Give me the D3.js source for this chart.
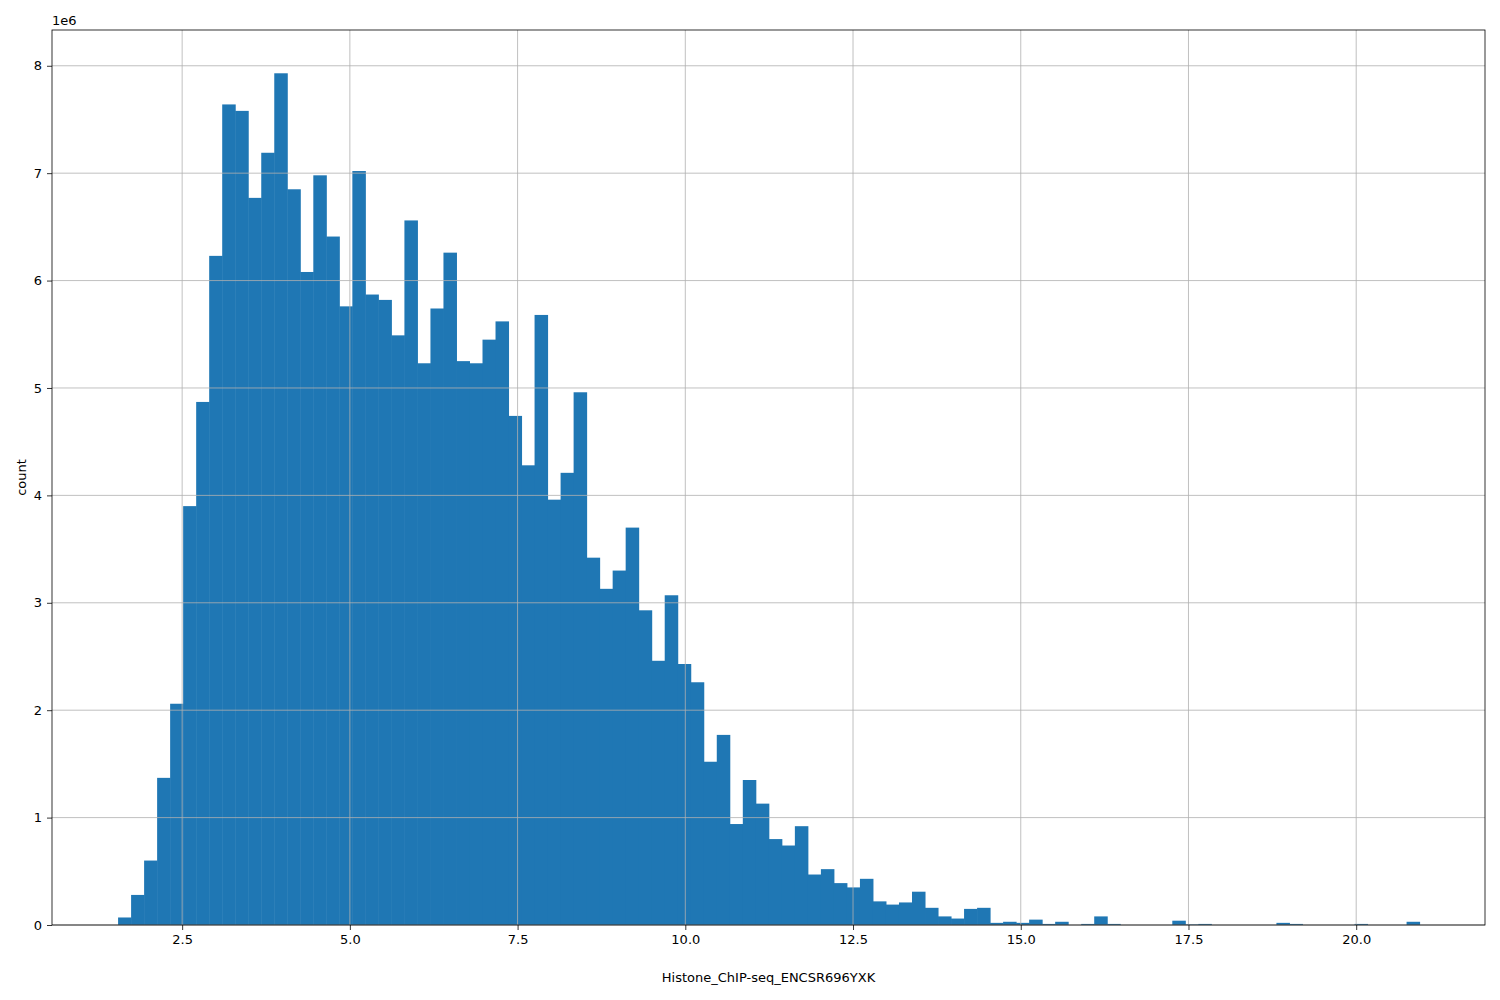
<!DOCTYPE html>
<html>
<head>
<meta charset="utf-8">
<script src="https://cdn.jsdelivr.net/npm/d3@7"></script>
<style>
  body { margin: 0; background: #fff; }
  text { font-family: "DejaVu Sans", sans-serif; }
</style>
</head>
<body>
<svg id="chart" width="1500" height="1000"></svg>
<script>
// histogram: 100 equal bins
const binStart = 1.545;
const binWidth = 0.194;
// counts in millions
const counts = [
  0.07, 0.28, 0.60, 1.37, 2.06, 3.90, 4.87, 6.23, 7.64, 7.58,
  6.77, 7.19, 7.93, 6.85, 6.08, 6.98, 6.41, 5.76, 7.02, 5.87,
  5.82, 5.49, 6.56, 5.23, 5.74, 6.26, 5.25, 5.23, 5.45, 5.62,
  4.74, 4.28, 5.68, 3.96, 4.21, 4.96, 3.42, 3.13, 3.30, 3.70,
  2.93, 2.46, 3.07, 2.43, 2.26, 1.52, 1.77, 0.94, 1.35, 1.13,
  0.80, 0.74, 0.92, 0.47, 0.52, 0.39, 0.35, 0.43, 0.22, 0.19,
  0.21, 0.31, 0.16, 0.08, 0.06, 0.15, 0.16, 0.02, 0.03, 0.02,
  0.05, 0.01, 0.03, 0.00, 0.01, 0.08, 0.01, 0.00, 0.00, 0.00,
  0.00, 0.04, 0.005, 0.01, 0.00, 0.00, 0.00, 0.00, 0.00, 0.02,
  0.01, 0.00, 0.00, 0.00, 0.00, 0.01, 0.00, 0.00, 0.00, 0.03
];
const xTicks = [2.5, 5.0, 7.5, 10.0, 12.5, 15.0, 17.5, 20.0];
const yTicks = [0, 1, 2, 3, 4, 5, 6, 7, 8];
const xLabel = "Histone_ChIP-seq_ENCSR696YXK";
const yLabel = "count";

const m = { left: 52, right: 15, top: 30, bottom: 75 };
const W = 1500, H = 1000;
const svg = d3.select("#chart");

const x = d3.scaleLinear().domain([0.56, 21.92]).range([m.left, W - m.right]);
const y = d3.scaleLinear().domain([0, 8.333]).range([H - m.bottom, m.top]);

const g = svg.append("g");

// bars first, grid drawn over (matplotlib hist with grid on top)
g.selectAll("rect.bar").data(counts).join("rect")
  .attr("class", "bar")
  .attr("x", (d, i) => x(binStart + i * binWidth))
  .attr("width", (d, i) => x(binStart + (i + 1) * binWidth) - x(binStart + i * binWidth) + 0.5)
  .attr("y", d => y(d))
  .attr("height", d => y(0) - y(d))
  .attr("fill", "#1f77b4");

// grid
g.selectAll("line.gx").data(xTicks).join("line")
  .attr("x1", d => x(d)).attr("x2", d => x(d))
  .attr("y1", m.top).attr("y2", H - m.bottom)
  .attr("stroke", "#b0b0b0").attr("stroke-width", 0.8);
g.selectAll("line.gy").data(yTicks).join("line")
  .attr("y1", d => y(d)).attr("y2", d => y(d))
  .attr("x1", m.left).attr("x2", W - m.right)
  .attr("stroke", "#b0b0b0").attr("stroke-width", 0.8);

// axes
const xAxis = d3.axisBottom(x).tickValues(xTicks).tickFormat(d3.format(".1f")).tickSize(5).tickPadding(5);
const yAxis = d3.axisLeft(y).tickValues(yTicks).tickFormat(d3.format("d")).tickSize(5).tickPadding(5);
svg.append("g").attr("transform", `translate(0,${H - m.bottom})`).call(xAxis)
  .call(a => a.select(".domain").remove());
svg.append("g").attr("transform", `translate(${m.left},0)`).call(yAxis)
  .call(a => a.select(".domain").remove());
svg.selectAll(".tick text").attr("font-size", 13).attr("fill", "#000")
  .style("font-family", "DejaVu Sans, sans-serif");
svg.selectAll(".tick line").attr("stroke", "#000").attr("stroke-width", 0.8);

// frame
svg.append("rect").attr("x", m.left).attr("y", m.top)
  .attr("width", W - m.left - m.right).attr("height", H - m.top - m.bottom)
  .attr("fill", "none").attr("stroke", "#000").attr("stroke-width", 0.8);

svg.append("text").attr("x", m.left).attr("y", m.top - 5)
  .attr("font-size", 13).text("1e6");
svg.append("text").attr("x", (m.left + W - m.right) / 2).attr("y", 982)
  .attr("text-anchor", "middle").attr("font-size", 13).text(xLabel);
svg.append("text").attr("transform", `translate(26,${(m.top + H - m.bottom) / 2}) rotate(-90)`)
  .attr("text-anchor", "middle").attr("font-size", 13).text(yLabel);
</script>
</body>
</html>
